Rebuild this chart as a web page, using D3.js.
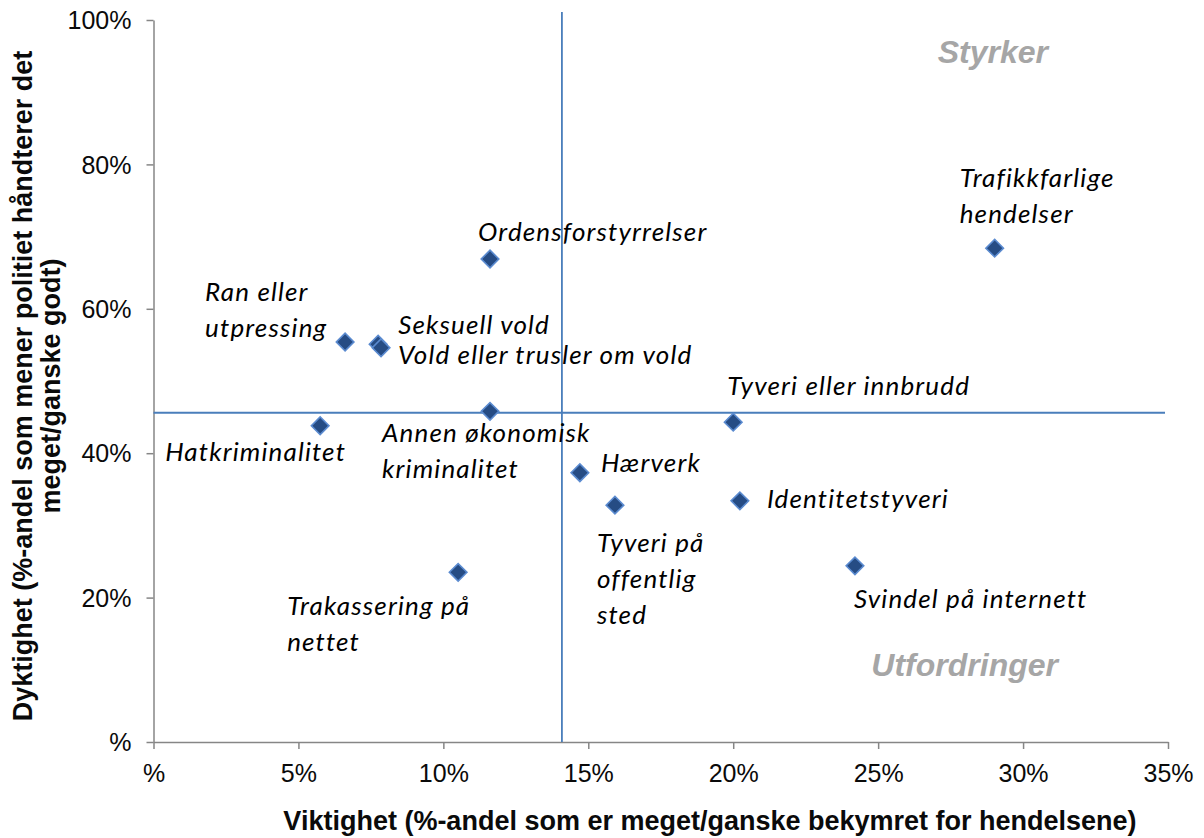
<!DOCTYPE html>
<html><head><meta charset="utf-8">
<script src="https://cdn.jsdelivr.net/npm/d3@7"></script>
<style>
body{margin:0;background:#fff;}
svg{display:block;}
</style></head>
<body>
<svg id="chart" width="1204" height="838"></svg>
<script>
const names = ["Ordensforstyrrelser","Trafikkfarlige hendelser","Ran eller utpressing","Seksuell vold","Vold eller trusler om vold","Annen økonomisk kriminalitet","Hatkriminalitet","Tyveri eller innbrudd","Hærverk","Tyveri på offentlig sted","Identitetstyveri","Trakassering på nettet","Svindel på internett"];
const importance = [0.1161,0.2902,0.0661,0.0775,0.0785,0.1161,0.0575,0.2000,0.1471,0.1592,0.2023,0.1051,0.2420];
const competence = [0.669,0.684,0.554,0.551,0.546,0.458,0.438,0.443,0.373,0.328,0.334,0.235,0.244];
const labelLines = [["Ordensforstyrrelser"],["Trafikkfarlige","hendelser"],["Ran eller","utpressing"],["Seksuell vold"],["Vold eller trusler om vold"],["Annen økonomisk","kriminalitet"],["Hatkriminalitet"],["Tyveri eller innbrudd"],["Hærverk"],["Tyveri på","offentlig","sted"],["Identitetstyveri"],["Trakassering på","nettet"],["Svindel på internett"]];
// label anchor offsets relative to the point (dx, dy to first baseline), layout only
const labelOffsets = [[-12,-18],[-35,-61],[-140,-41],[20,-10],[17,16],[-108,31],[-155,35],[-6,-27],[21,-1],[-18,47],[27,7],[-171,43],[-1,42]];
const xTicks = [0,0.05,0.10,0.15,0.20,0.25,0.30,0.35];
const yTicks = [0,0.2,0.4,0.6,0.8,1.0];
const xRef = 0.1409, yRef = 0.456;
const quadrantLabels = ["Styrker","Utfordringer"];

const svg = d3.select("#chart");
const x = d3.scaleLinear().domain([0,0.35]).range([153.5,1168]);
const y = d3.scaleLinear().domain([0,1]).range([742,20]);
const pct = v => v===0 ? "%" : Math.round(v*100)+"%";
const axisColor = "#868686";

const gx = svg.append("g").attr("transform","translate(0,742)")
  .call(d3.axisBottom(x).tickValues(xTicks).tickFormat(pct).tickSize(7).tickSizeOuter(0));
const gy = svg.append("g").attr("transform","translate(153.5,0)")
  .call(d3.axisLeft(y).tickValues(yTicks).tickFormat(pct).tickSize(7).tickSizeOuter(0));
[gx,gy].forEach(g=>{
  g.select(".domain").attr("stroke",axisColor).attr("stroke-width",1.5);
  g.selectAll(".tick line").attr("stroke",axisColor).attr("stroke-width",1.5);
  g.selectAll(".tick text").attr("font-family","'Liberation Sans', Arial, sans-serif").attr("font-size",25).attr("fill","#0a0a0a");
});
gx.selectAll(".tick text").attr("dy",null).attr("y",40);
gy.selectAll(".tick text").attr("x",-22).attr("dy","0.35em");

// reference lines
svg.append("line").attr("x1",x(xRef)).attr("x2",x(xRef)).attr("y1",12).attr("y2",742)
  .attr("stroke","#4a7ebb").attr("stroke-width",1.8);
svg.append("line").attr("x1",x(0)).attr("x2",1165).attr("y1",y(yRef)).attr("y2",y(yRef))
  .attr("stroke","#4a7ebb").attr("stroke-width",1.8);

// points
const data = names.map((n,i)=>({n, x:importance[i], y:competence[i], lines:labelLines[i], off:labelOffsets[i]}));
svg.append("g").selectAll("path").data(data).join("path")
  .attr("transform",d=>`translate(${x(d.x)},${y(d.y)}) rotate(45)`)
  .attr("d",d3.symbol(d3.symbolSquare,155)())
  .attr("fill","#264c84").attr("stroke","#5b8bd0").attr("stroke-width",1.6);

// labels
const lab = svg.append("g").attr("font-family","Lato, 'Open Sans', sans-serif").attr("font-style","italic")
  .attr("font-size",26).attr("letter-spacing",1.15).attr("fill","#000");
data.forEach(d=>{
  const t = lab.append("text").attr("x",x(d.x)+d.off[0]).attr("y",y(d.y)+d.off[1]);
  d.lines.forEach((l,j)=>t.append("tspan").attr("x",x(d.x)+d.off[0]).attr("dy",j===0?0:36).text(l));
});

// quadrant labels
const qFont = "'Liberation Sans', Arial, sans-serif";
svg.append("text").attr("x",1048).attr("y",63).attr("text-anchor","end")
  .attr("font-family",qFont).attr("font-weight","bold").attr("font-style","italic")
  .attr("font-size",32).attr("fill","#a6a6a6").text(quadrantLabels[0]);
svg.append("text").attr("x",1058).attr("y",676).attr("text-anchor","end")
  .attr("font-family",qFont).attr("font-weight","bold").attr("font-style","italic")
  .attr("font-size",32).attr("fill","#a6a6a6").text(quadrantLabels[1]);

// axis titles
svg.append("text").attr("x",710).attr("y",830).attr("text-anchor","middle")
  .attr("font-family",qFont).attr("font-weight","bold").attr("font-size",27).attr("fill","#0a0a0a")
  .text("Viktighet (%-andel som er meget/ganske bekymret for hendelsene)");
const yt = svg.append("text").attr("transform","translate(0,386) rotate(-90)").attr("text-anchor","middle")
  .attr("font-family",qFont).attr("font-weight","bold").attr("font-size",27).attr("fill","#0a0a0a");
yt.append("tspan").attr("x",0).attr("y",32).text("Dyktighet (%-andel som mener politiet håndterer det");
yt.append("tspan").attr("x",0).attr("y",60).text("meget/ganske godt)");
</script>
</body></html>
